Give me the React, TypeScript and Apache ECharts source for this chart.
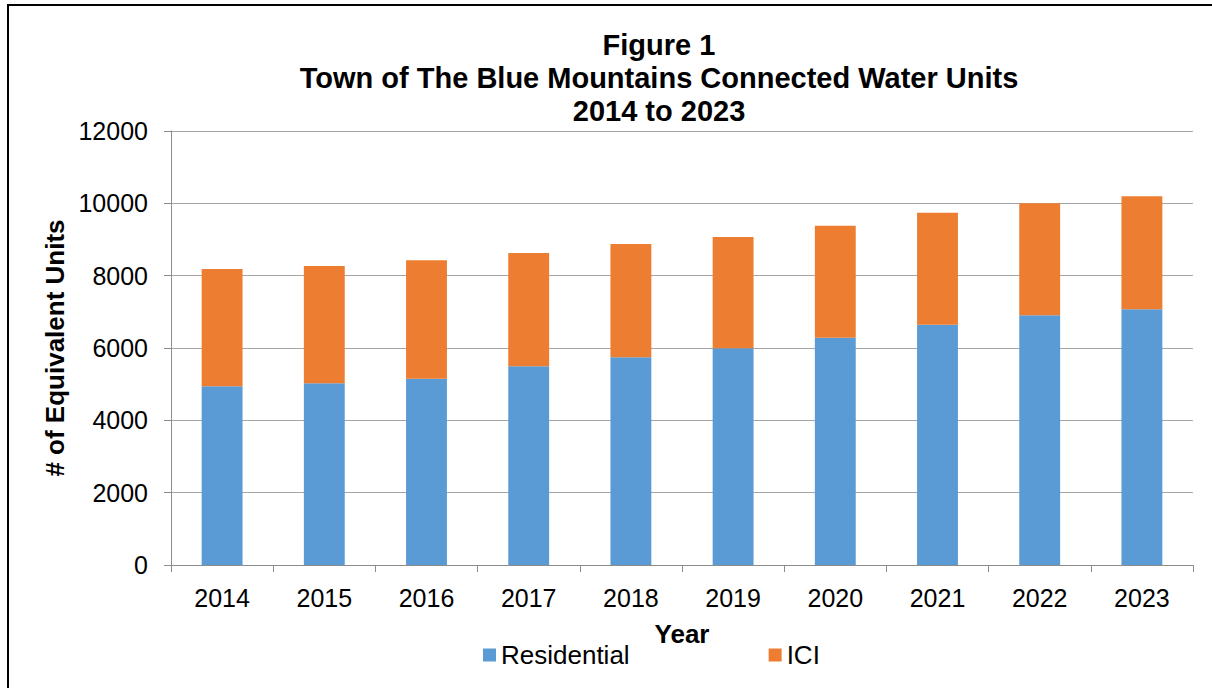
import React, { useEffect, useRef } from "react";
import * as echarts from "echarts";

const years = ["2014", "2015", "2016", "2017", "2018", "2019", "2020", "2021", "2022", "2023"];
const residential = [4940, 5024, 5152, 5493, 5742, 5991, 6286, 6645, 6903, 7069];
const ici = [3244, 3243, 3273, 3134, 3134, 3078, 3096, 3097, 3098, 3125];
const titleLines = ["Figure 1", "Town of The Blue Mountains Connected Water Units", "2014 to 2023"];

const FONT = "'Liberation Sans', Arial, sans-serif";

export default function App() {
  const ref = useRef<HTMLDivElement>(null);
  useEffect(() => {
    if (!ref.current) return;
    const chart = echarts.init(ref.current, undefined, { renderer: "svg" });
    chart.setOption({
      animation: false,
      backgroundColor: "#ffffff",
      textStyle: { fontFamily: FONT },
      title: {
        text: titleLines.join("\n"),
        left: 654,
        top: 23,
        textAlign: "center",
        textStyle: { fontFamily: FONT, fontWeight: "bold", fontSize: 29, lineHeight: 33, color: "#000" },
      },
      legend: {
        bottom: 15,
        left: 478,
        itemWidth: 13,
        itemHeight: 13,
        itemGap: 139,
        icon: "rect",
        textStyle: { fontFamily: FONT, fontSize: 26, color: "#000", padding: [0, 0, 0, 0] },
        data: ["Residential", "ICI"],
      },
      grid: { left: 171, top: 131, right: 19, bottom: 123, containLabel: false },
      xAxis: {
        type: "category",
        data: years,
        name: "Year",
        nameLocation: "middle",
        nameGap: 56,
        nameTextStyle: { fontFamily: FONT, fontWeight: "bold", fontSize: 26, color: "#000" },
        axisLine: { lineStyle: { color: "#8c8c8c", width: 1 } },
        axisTick: { show: true, length: 7, lineStyle: { color: "#8c8c8c" } },
        axisLabel: { fontFamily: FONT, fontSize: 25, color: "#000", margin: 20 },
      },
      yAxis: {
        type: "value",
        min: 0,
        max: 12000,
        interval: 2000,
        name: "# of Equivalent Units",
        nameLocation: "middle",
        nameGap: 100,
        nameRotate: 90,
        nameTextStyle: { fontFamily: FONT, fontWeight: "bold", fontSize: 26, color: "#000" },
        axisLine: { show: true, lineStyle: { color: "#8c8c8c", width: 1 } },
        axisTick: { show: true, length: 7, lineStyle: { color: "#8c8c8c" } },
        axisLabel: {
          fontFamily: FONT,
          fontSize: 25,
          color: "#000",
          margin: 23,
          formatter: (v: number) => String(v),
        },
        splitLine: { lineStyle: { color: "#a6a6a6", width: 1 } },
      },
      series: [
        {
          name: "Residential",
          type: "bar",
          stack: "total",
          data: residential,
          barWidth: "40%",
          itemStyle: { color: "#5B9BD5" },
        },
        {
          name: "ICI",
          type: "bar",
          stack: "total",
          data: ici,
          barWidth: "40%",
          itemStyle: { color: "#ED7D31" },
        },
      ],
      graphic: [
        {
          type: "rect",
          shape: { x: 8, y: 5, width: 1220, height: 700 },
          style: { fill: "none", stroke: "#000", lineWidth: 2 },
          silent: true,
        },
      ],
    });
    return () => chart.dispose();
  }, []);
  return (
    <div
      ref={ref}
      style={{ position: "absolute", left: 0, top: 0, width: 1212, height: 688 }}
    />
  );
}
